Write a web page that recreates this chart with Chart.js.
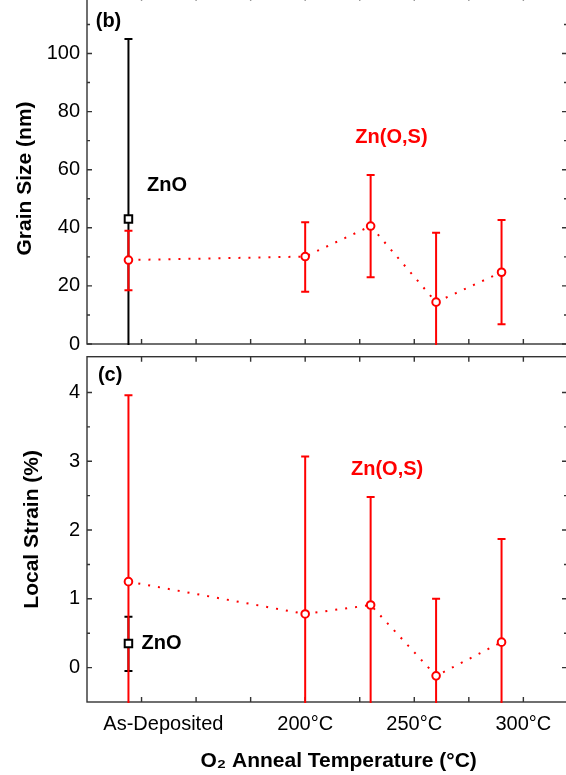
<!DOCTYPE html>
<html>
<head>
<meta charset="utf-8">
<script src="https://cdn.jsdelivr.net/npm/chart.js@4"></script>
<style>
  body { margin: 0; width: 566px; height: 775px; overflow: hidden; background: #fff; position: relative; }
  .panel { position: absolute; left: 0; width: 568px; }
  #grainBox { top: -20px; height: 370px; }
  #strainBox { top: 350px; height: 425px; }
</style>
</head>
<body>
<div class="panel" id="grainBox"><canvas id="grain"></canvas></div>
<div class="panel" id="strainBox"><canvas id="strain"></canvas></div>
<script>
const FONT = '"Liberation Sans", Arial, sans-serif';
const RED = '#ff0000';

// x positions in degC, the as-deposited sample is put left of 200
const tempX = [119, 200, 230, 260, 290];
const znoX = [119];
const xTickMarks = [125, 150, 175, 200, 225, 250, 275, 300];
const xLabelValues = [135, 200, 250, 300];
const xLabelText = ['As-Deposited', '200°C', '250°C', '300°C'];

// (b) grain size, nm
const grainZnOS = [28.9, 30.1, 40.6, 14.4, 24.7];
const grainZnOSLow = [18.5, 18.0, 23.0, -9.5, 6.8];
const grainZnOSHigh = [39.0, 41.9, 58.2, 38.3, 42.7];
const grainZnO = [43];
const grainZnOLow = [-19];
const grainZnOHigh = [105];
const grainTicks = [0, 20, 40, 60, 80, 100];
const grainMinor = [10, 30, 50, 70, 90, 110];

// (c) local strain, %
const strainZnOS = [1.25, 0.78, 0.91, -0.12, 0.37];
const strainZnOSLow = [-1.45, -1.51, -0.67, -1.24, -1.13];
const strainZnOSHigh = [3.96, 3.07, 2.48, 1.0, 1.87];
const strainZnO = [0.35];
const strainZnOLow = [-0.05];
const strainZnOHigh = [0.74];
const strainTicks = [0, 1, 2, 3, 4];
const strainMinor = [0.5, 1.5, 2.5, 3.5];

// frame with inward ticks, error bars and panel notes
const panelDecor = {
  id: 'panelDecor',
  beforeDatasetsDraw(chart, args, opts) {
    const ctx = chart.ctx;
    const a = chart.chartArea;
    const x = chart.scales.x, y = chart.scales.y;
    ctx.save();
    ctx.strokeStyle = '#333';
    ctx.lineWidth = 1.4;
    ctx.strokeRect(a.left, a.top, a.right - a.left, a.bottom - a.top);
    ctx.beginPath();
    xTickMarks.forEach(v => {
      const px = x.getPixelForValue(v);
      ctx.moveTo(px, a.bottom); ctx.lineTo(px, a.bottom - 5);
      ctx.moveTo(px, a.top); ctx.lineTo(px, a.top + 5);
    });
    y.ticks.forEach(t => {
      const py = y.getPixelForValue(t.value);
      ctx.moveTo(a.left, py); ctx.lineTo(a.left + 5, py);
      ctx.moveTo(a.right, py); ctx.lineTo(a.right - 5, py);
    });
    opts.minor.forEach(v => {
      const py = y.getPixelForValue(v);
      ctx.moveTo(a.left, py); ctx.lineTo(a.left + 3, py);
      ctx.moveTo(a.right, py); ctx.lineTo(a.right - 3, py);
    });
    ctx.stroke();

    ctx.beginPath();
    ctx.rect(a.left, a.top - 1, a.right - a.left, a.bottom - a.top + 2);
    ctx.clip();
    ctx.lineWidth = 2;
    opts.bars.forEach(b => {
      ctx.strokeStyle = b.color;
      ctx.beginPath();
      b.x.forEach((xv, i) => {
        const px = x.getPixelForValue(xv);
        const lo = y.getPixelForValue(b.lo[i]);
        const hi = y.getPixelForValue(b.hi[i]);
        ctx.moveTo(px, lo); ctx.lineTo(px, hi);
        ctx.moveTo(px - 4, hi); ctx.lineTo(px + 4, hi);
        ctx.moveTo(px - 4, lo); ctx.lineTo(px + 4, lo);
      });
      ctx.stroke();
    });
    ctx.restore();
  },
  afterDatasetsDraw(chart, args, opts) {
    const ctx = chart.ctx;
    const x = chart.scales.x, y = chart.scales.y;
    ctx.save();
    ctx.font = 'bold 20px ' + FONT;
    ctx.textAlign = 'left';
    ctx.textBaseline = 'middle';
    opts.notes.forEach(n => {
      ctx.fillStyle = n.color;
      ctx.fillText(n.text, x.getPixelForValue(n.x), y.getPixelForValue(n.y));
    });
    ctx.restore();
  }
};

function points(xs, ys) {
  return xs.map((v, i) => ({ x: v, y: ys[i] }));
}

function makePanel(id, opt) {
  return new Chart(document.getElementById(id), {
    type: 'line',
    data: {
      datasets: [{
        label: 'ZnO',
        data: points(znoX, opt.zno),
        showLine: false,
        pointStyle: 'rect',
        pointRadius: 5.3,
        pointBorderWidth: 2,
        pointBorderColor: '#000',
        pointBackgroundColor: '#fff'
      }, {
        label: 'Zn(O,S)',
        data: points(tempX, opt.znos),
        borderColor: RED,
        borderWidth: 2,
        borderDash: [2, 8],
        pointStyle: 'circle',
        pointRadius: 3.8,
        pointBorderWidth: 2,
        pointBorderColor: RED,
        pointBackgroundColor: '#fff'
      }]
    },
    options: {
      responsive: true,
      maintainAspectRatio: false,
      animation: false,
      layout: { autoPadding: false, padding: { top: opt.padTop, right: 1, left: 0, bottom: 0 } },
      plugins: {
        legend: { display: false },
        tooltip: { enabled: false },
        panelDecor: { minor: opt.minor, bars: opt.bars, notes: opt.notes }
      },
      scales: {
        x: {
          type: 'linear',
          min: 100,
          max: 320,
          grid: { display: false, drawTicks: false },
          border: { display: false },
          afterBuildTicks: s => { s.ticks = xLabelValues.map(v => ({ value: v })); },
          afterFit: s => { s.height = opt.xHeight; s.paddingLeft = 0; s.paddingRight = 0; },
          ticks: {
            display: opt.xLabels,
            autoSkip: false,
            maxRotation: 0,
            padding: 10,
            color: '#000',
            font: { family: FONT, size: 20 },
            callback: (v, i) => xLabelText[i]
          },
          title: {
            display: opt.xLabels,
            text: '    O₂ Anneal Temperature (°C)',
            color: '#000',
            font: { family: FONT, size: 21, weight: 'bold' },
            padding: { top: 0, bottom: 1.5 }
          }
        },
        y: {
          min: opt.yMin,
          max: opt.yMax,
          grid: { display: false, drawTicks: false },
          border: { display: false },
          afterBuildTicks: s => { s.ticks = opt.yTicks.map(v => ({ value: v })); },
          afterFit: s => { s.width = 87; s.paddingTop = 0; s.paddingBottom = 0; },
          ticks: {
            padding: 7,
            color: '#000',
            font: { family: FONT, size: 20 }
          },
          title: {
            display: true,
            text: opt.yTitle,
            color: '#000',
            font: { family: FONT, size: 21, weight: 'bold' },
            padding: { top: opt.yTitlePad, bottom: 0 }
          }
        }
      }
    },
    plugins: [panelDecor]
  });
}

makePanel('grain', {
  zno: grainZnO,
  znos: grainZnOS,
  yMin: 0,
  yMax: 120,
  yTicks: grainTicks,
  minor: grainMinor,
  padTop: 15.4,
  xHeight: 6,
  xLabels: false,
  yTitle: 'Grain Size (nm)   ',
  yTitlePad: 12.4,
  bars: [
    { x: znoX, lo: grainZnOLow, hi: grainZnOHigh, color: '#000' },
    { x: tempX, lo: grainZnOSLow, hi: grainZnOSHigh, color: RED }
  ],
  notes: [
    { text: '(b)', x: 104, y: 111, color: '#000' },
    { text: 'ZnO', x: 127.5, y: 54.6, color: '#000' },
    { text: 'Zn(O,S)', x: 223, y: 71, color: RED }
  ]
});

makePanel('strain', {
  zno: strainZnO,
  znos: strainZnOS,
  yMin: -0.5,
  yMax: 4.52,
  yTicks: strainTicks,
  minor: strainMinor,
  padTop: 6.7,
  xHeight: 73,
  xLabels: true,
  yTitle: 'Local Strain (%)',
  yTitlePad: 19.4,
  bars: [
    { x: znoX, lo: strainZnOLow, hi: strainZnOHigh, color: '#000' },
    { x: tempX, lo: strainZnOSLow, hi: strainZnOSHigh, color: RED }
  ],
  notes: [
    { text: '(c)', x: 105, y: 4.24, color: '#000' },
    { text: 'ZnO', x: 125, y: 0.35, color: '#000' },
    { text: 'Zn(O,S)', x: 221, y: 2.88, color: RED }
  ]
});
</script>
</body>
</html>
